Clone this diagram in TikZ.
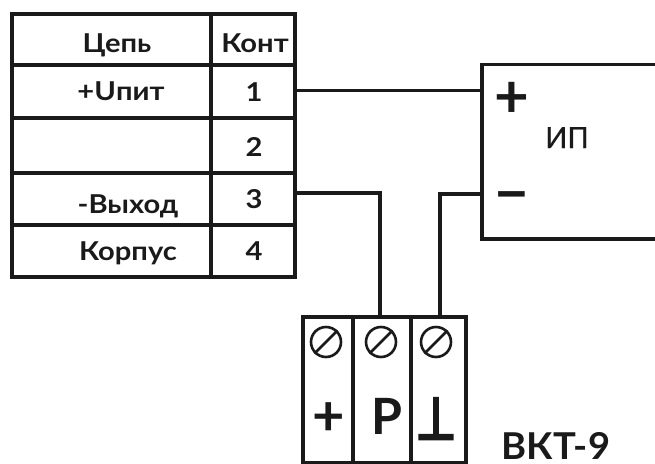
\documentclass[tikz,border=0pt]{standalone}
\usepackage{fontspec}
\setmainfont{Lato}
\newfontfamily\widefont[FakeStretch=1.12]{Lato}
\newfontfamily\namefont[FakeStretch=1.03]{Lato}
\newfontfamily\midfont[FakeBold=0.8]{Lato}
\newfontfamily\symfont[FakeStretch=0.8,FakeBold=5]{DejaVu Sans}
\definecolor{ink}{HTML}{1A1A1A}
\tikzset{
  x=1pt,y=-1pt,
  cell/.style={draw=ink,line width=3.6pt,anchor=north west,inner sep=0pt},
  wire/.style={draw=ink,line width=3.6pt,line cap=butt},
  lab/.style={text=ink,anchor=base,inner sep=0pt,font=\widefont\fontsize{26}{28}\selectfont\bfseries},
  sign/.style={text=ink,anchor=base,inner sep=0pt,font=\fontsize{60}{60}\selectfont\bfseries},
  screw/.style={circle,draw=ink,line width=2.6pt,minimum size=30pt,inner sep=0pt},
  slot/.style={draw=ink,line width=2.6pt}
}
\begin{document}
\begin{tikzpicture}
\useasboundingbox (0,0) rectangle (655,463);
% table
\node[cell,minimum width=199pt,minimum height=51pt] (c0) at (10,12) {};
\node[cell,minimum width=84pt,minimum height=51pt] (k0) at (209,12) {};
\node[cell,minimum width=199pt,minimum height=53pt] (c1) at (10,63) {};
\node[cell,minimum width=84pt,minimum height=53pt] (k1) at (209,63) {};
\node[cell,minimum width=199pt,minimum height=55pt] (c2) at (10,116) {};
\node[cell,minimum width=84pt,minimum height=55pt] (k2) at (209,116) {};
\node[cell,minimum width=199pt,minimum height=52pt] (c3) at (10,171) {};
\node[cell,minimum width=84pt,minimum height=52pt] (k3) at (209,171) {};
\node[cell,minimum width=199pt,minimum height=52pt] (c4) at (10,223) {};
\node[cell,minimum width=84pt,minimum height=52pt] (k4) at (209,223) {};
\node[lab] (t0) at (117,52) {Цепь};
\node[lab] (t1) at (121,100) {+Uпит};
\node[lab] (t3) at (128,213) {-Выход};
\node[lab] (t4) at (128,260) {Корпус};
\node[lab] (n0) at (255,52) {Конт};
\node[lab] (n1) at (254,101) {1};
\node[lab] (n2) at (254,156) {2};
\node[lab] (n3) at (254,208) {3};
\node[lab] (n4) at (254,260) {4};
% power supply, open past the right edge
\coordinate (ipNE) at (655,64.5);
\coordinate (ipNW) at (482,64.5);
\coordinate (ipSW) at (482,239);
\coordinate (ipSE) at (655,239);
\draw[wire,line join=miter] (ipNE) -- (ipNW) -- (ipSW) -- (ipSE);
\coordinate (ipP) at (482,90.5);
\coordinate (ipM) at (482,194);
\node[text=ink,anchor=base,inner sep=0pt,font=\midfont\fontsize{29}{30}\selectfont] (ip) at (567,148) {ИП};
\node[sign] (pl) at (512,117) {+};
\node[sign] (mi) at (512,214) {−};
% terminal
\node[cell,minimum width=163pt,minimum height=146pt] (term) at (301,315) {};
\draw[wire] (353,315) -- (353,461);
\draw[wire] (411,315) -- (411,461);
\node[screw] (s1) at (326,342) {};
\node[screw] (s2) at (381,342) {};
\node[screw] (s3) at (436,342) {};
\draw[slot] (s1.225) -- (s1.45);
\draw[slot] (s2.225) -- (s2.45);
\draw[slot] (s3.225) -- (s3.45);
\coordinate (tP) at (380,315);
\coordinate (tG) at (440,315);
\node[sign,font=\fontsize{56}{56}\selectfont\bfseries] (tpl) at (329,435) {+};
\node[text=ink,anchor=base,inner sep=0pt,font=\fontsize{50}{50}\selectfont\bfseries] (tr) at (387,434) {P};
\node[text=ink,anchor=base,inner sep=0pt,font=\symfont\fontsize{58}{58}\selectfont] (tg) at (436,439) {⊥};
\node[text=ink,anchor=base,inner sep=0pt,font=\namefont\fontsize{37}{40}\selectfont\bfseries] (name) at (556,459) {ВКТ-9};
% wires
\draw[wire] (k1.east |- ipP) -- (ipP);
\draw[wire] (k3.east |- 0,193) -- (380,193) -- (tP);
\draw[wire] (ipM) -- (440,194) -- (tG);
\end{tikzpicture}
\end{document}
